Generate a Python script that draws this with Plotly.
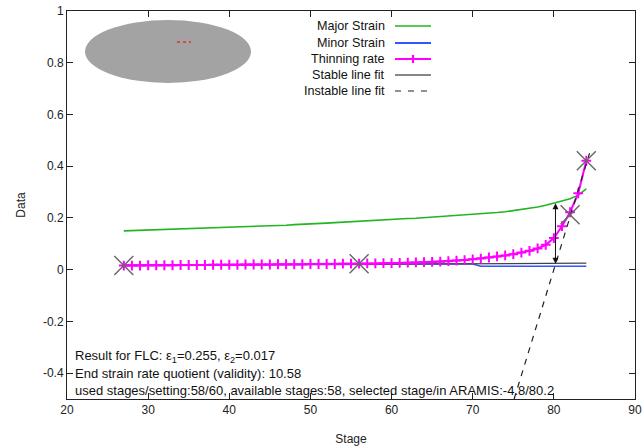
import plotly.graph_objects as go

# ---------------- data ----------------
stages = list(range(27, 85))  # 58 stages

major_strain = [0.150, 0.151, 0.152, 0.153, 0.154, 0.155, 0.156, 0.157, 0.158, 0.159,
                0.160, 0.161, 0.162, 0.163, 0.164, 0.166, 0.167, 0.168, 0.170, 0.171,
                0.172, 0.174, 0.175, 0.177, 0.179, 0.180, 0.182, 0.184, 0.186, 0.187,
                0.189, 0.191, 0.192, 0.194, 0.196, 0.198, 0.199, 0.201, 0.203, 0.205,
                0.207, 0.209, 0.211, 0.213, 0.215, 0.218, 0.221, 0.224, 0.228, 0.232,
                0.237, 0.242, 0.249, 0.257, 0.264, 0.274, 0.288, 0.312]

minor_strain = [0.016, 0.016, 0.016, 0.016, 0.016, 0.017, 0.017, 0.017, 0.017, 0.017,
                0.017, 0.018, 0.018, 0.018, 0.018, 0.018, 0.018, 0.019, 0.019, 0.019,
                0.019, 0.019, 0.020, 0.020, 0.020, 0.020, 0.020, 0.020, 0.021, 0.021,
                0.021, 0.021, 0.021, 0.021, 0.022, 0.022, 0.022, 0.022, 0.022, 0.022,
                0.022, 0.022, 0.022, 0.022, 0.013, 0.013, 0.013, 0.013, 0.013, 0.013,
                0.013, 0.013, 0.013, 0.013, 0.013, 0.013, 0.013, 0.013]

thinning_rate = [0.016, 0.016, 0.016, 0.017, 0.017, 0.017, 0.017, 0.018, 0.018, 0.018,
                 0.018, 0.019, 0.019, 0.019, 0.019, 0.020, 0.020, 0.020, 0.020, 0.021,
                 0.021, 0.021, 0.021, 0.022, 0.022, 0.022, 0.022, 0.023, 0.023, 0.023,
                 0.024, 0.024, 0.025, 0.025, 0.026, 0.027, 0.028, 0.029, 0.030, 0.031,
                 0.033, 0.035, 0.037, 0.040, 0.043, 0.047, 0.051, 0.055, 0.060, 0.066,
                 0.073, 0.082, 0.096, 0.122, 0.168, 0.222, 0.295, 0.421]

stable_fit_x = [27, 84]
stable_fit_y = [0.017, 0.025]
instable_fit_x = [75.1, 84.4]
instable_fit_y = [-0.5, 0.45]

fit_points_x = [27, 56, 82, 84]
fit_points_y = [0.016, 0.023, 0.212, 0.421]

flc_stage = 80.2
flc_major = 0.257
flc_minor = 0.017

x_ticks = [20, 30, 40, 50, 60, 70, 80, 90]
y_ticks = [-0.4, -0.2, 0, 0.2, 0.4, 0.6, 0.8, 1]
y_tick_text = ["-0.4", "-0.2", "0", "0.2", "0.4", "0.6", "0.8", "1"]

legend_names = ["Major Strain", "Minor Strain", "Thinning rate", "Stable line fit", "Instable line fit"]
info_lines = [
    "Result for FLC: ε<sub>1</sub>=0.255, ε<sub>2</sub>=0.017",
    "End strain rate quotient (validity): 10.58",
    "used stages/setting:58/60, available stages:58, selected stage/in ARAMIS:-4.8/80.2",
]

# ---------------- style ----------------
GREEN = "#22b522"
BLUE = "#3355ff"
MAGENTA = "#ff00ff"
FONT = "Liberation Sans, Arial, sans-serif"

W, H = 644, 448
L, R, T, B = 67, 9, 11, 49
PW, PH = W - L - R, H - T - B


def px(xp):
    return (xp - L) / PW


def py(yp):
    return (H - B - yp) / PH


fig = go.Figure()

fig.add_trace(go.Scatter(x=stages, y=major_strain, mode="lines",
                         line=dict(color=GREEN, width=1.6), name=legend_names[0]))
fig.add_trace(go.Scatter(x=stages, y=minor_strain, mode="lines",
                         line=dict(color=BLUE, width=1.6), name=legend_names[1]))
fig.add_trace(go.Scatter(x=stable_fit_x, y=stable_fit_y, mode="lines",
                         line=dict(color="#444444", width=1.3), name=legend_names[3]))
fig.add_trace(go.Scatter(x=stages, y=thinning_rate, mode="lines+markers",
                         line=dict(color=MAGENTA, width=2),
                         marker=dict(symbol="cross-thin", size=7,
                                     line=dict(color=MAGENTA, width=2)),
                         name=legend_names[2]))
fig.add_trace(go.Scatter(x=instable_fit_x, y=instable_fit_y, mode="lines",
                         line=dict(color="#222222", width=1.2, dash="6px,6px"),
                         name=legend_names[4]))
fig.add_trace(go.Scatter(x=fit_points_x, y=fit_points_y, mode="markers",
                         marker=dict(symbol="x-thin", size=19,
                                     line=dict(color="#666666", width=1.4)),
                         name="fit points"))

shapes = []
annotations = []

# specimen image (gray ellipse with red marks)
shapes.append(dict(type="circle", xref="paper", yref="paper",
                   x0=px(85), x1=px(251), y0=py(83), y1=py(20),
                   fillcolor="#a3a3a3", line=dict(width=0), layer="below"))
shapes.append(dict(type="line", xref="paper", yref="paper",
                   x0=px(177), x1=px(191), y0=py(42), y1=py(42),
                   line=dict(color="#e03030", width=1.5, dash="dot")))

# double arrow at FLC stage
annotations.append(dict(x=flc_stage, y=flc_major, ax=flc_stage, ay=flc_minor,
                        xref="x", yref="y", axref="x", ayref="y", text="",
                        showarrow=True, arrowhead=2, startarrowhead=2,
                        arrowside="end+start", arrowsize=1.2, arrowwidth=1,
                        arrowcolor="#111111"))

# custom legend (text to the left of samples)
row_y = [26, 43, 59, 75, 91]
legend_styles = [
    dict(color=GREEN, width=1.6, dash="solid"),
    dict(color=BLUE, width=2, dash="solid"),
    dict(color=MAGENTA, width=2, dash="solid"),
    dict(color="#111111", width=1.2, dash="solid"),
    dict(color="#222222", width=1.2, dash="6px,7px"),
]
for name, yy, st in zip(legend_names, row_y, legend_styles):
    annotations.append(dict(x=px(387), y=py(yy), xref="paper", yref="paper",
                            text=name, showarrow=False, xanchor="right", yanchor="middle",
                            font=dict(family=FONT, size=12.6, color="#111111")))
    shapes.append(dict(type="line", xref="paper", yref="paper",
                       x0=px(395), x1=px(431), y0=py(yy), y1=py(yy), line=st))
# plus marker on thinning-rate sample
shapes.append(dict(type="line", xref="paper", yref="paper",
                   x0=px(413), x1=px(413), y0=py(row_y[2] - 4), y1=py(row_y[2] + 4),
                   line=dict(color=MAGENTA, width=2.2)))

# info text
for i, txt in enumerate(info_lines):
    annotations.append(dict(x=px(73), y=py(356 + 17 * i), xref="paper", yref="paper",
                            text=txt, showarrow=False, xanchor="left", yanchor="middle",
                            font=dict(family=FONT, size=13, color="#111111")))

axis_common = dict(showline=True, linecolor="#222222", linewidth=1, mirror="allticks",
                   ticks="inside", ticklen=6, tickcolor="#222222", showgrid=False,
                   zeroline=False, automargin=False,
                   tickfont=dict(family=FONT, size=12, color="#222222"))

fig.update_layout(
    width=W, height=H,
    margin=dict(l=L, r=R, t=T, b=B, autoexpand=False),
    paper_bgcolor="white", plot_bgcolor="white",
    showlegend=False,
    shapes=shapes, annotations=annotations,
    font=dict(family=FONT, size=12, color="#222222"),
    xaxis=dict(range=[20, 90], tickvals=x_ticks, ticktext=[str(v) for v in x_ticks],
               title=dict(text="Stage", standoff=18, font=dict(family=FONT, size=12)),
               **axis_common),
    yaxis=dict(range=[-0.5, 1], tickvals=y_ticks, ticktext=y_tick_text,
               title=dict(text="Data", standoff=14, font=dict(family=FONT, size=12)),
               **axis_common),
)

fig.write_html("out.html", config={"displayModeBar": False},
               post_script="document.body.style.margin='0';")
